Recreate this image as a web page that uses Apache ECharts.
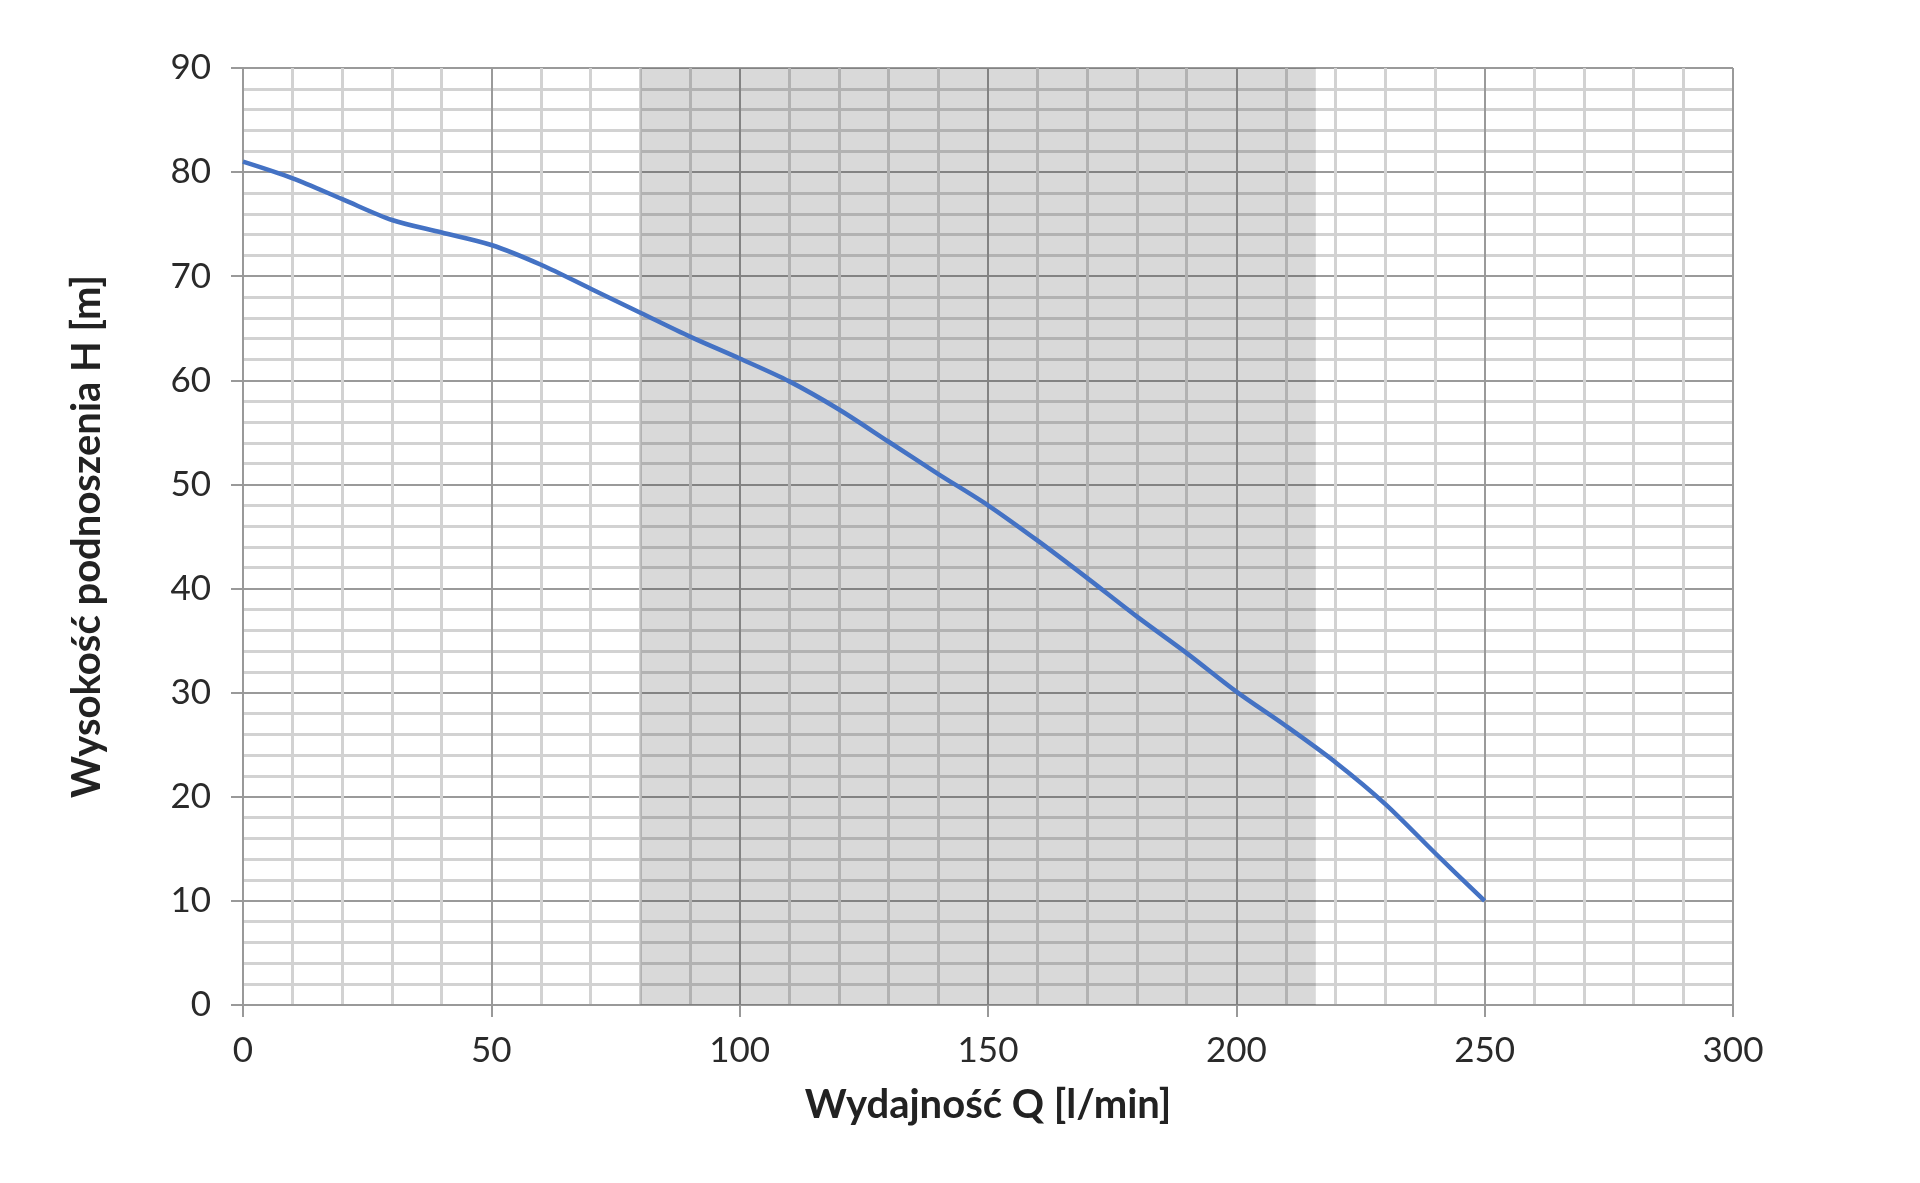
<!DOCTYPE html>
<html lang="pl">
<head>
    <meta charset="UTF-8">
    <title>Charakterystyka pompy</title>
    <script src="https://cdn.jsdelivr.net/npm/echarts@6.0.0/dist/echarts.min.js"></script>
    <style>
        html, body { margin: 0; padding: 0; background: #fff; }
    </style>
</head>
<body>

    <div id="main" style="width: 1920px;height:1183px;"></div>

    <script type="text/javascript">
        // przepływ Q [l/min] i wysokość podnoszenia H [m]
        var flow = [0, 10, 20, 30, 40, 50, 60, 70, 80, 90, 100, 110, 120, 130, 140, 150, 160, 170, 180, 190, 200, 210, 220, 230, 240, 250];
        var head = [81.0, 79.4, 77.4, 75.4, 74.2, 73.0, 71.1, 68.8, 66.5, 64.2, 62.1, 59.9, 57.2, 54.1, 51.0, 48.0, 44.6, 41.0, 37.3, 33.8, 30.1, 26.8, 23.3, 19.3, 14.6, 10.0];

        // zakres pracy (szare pole)
        var workRange = [80, 216];

        var xTicks = [0, 300, 50];   // min, max, interval
        var yTicks = [0, 90, 10];

        var points = flow.map(function (q, i) { return [q, head[i]]; });

        var myChart = echarts.init(document.getElementById('main'));

        var font = 'Lato, "Noto Sans", sans-serif';

        var option = {
            animation: false,
            grid: {
                left: 243,
                right: 187,
                top: 68,
                bottom: 178
            },
            xAxis: {
                type: 'value',
                min: xTicks[0],
                max: xTicks[1],
                interval: xTicks[2],
                name: 'Wydajność Q [l/min]',
                nameLocation: 'middle',
                nameGap: 80,
                nameTextStyle: { fontFamily: font, fontSize: 40, fontWeight: 'bold', color: '#222' },
                axisLine: { show: true, lineStyle: { color: '#999', width: 2 } },
                axisTick: { show: true, length: 12, lineStyle: { color: '#999', width: 2 } },
                axisLabel: { margin: 28, fontFamily: font, fontSize: 35, color: '#2a2a2a' },
                splitLine: { show: true, lineStyle: { color: '#9a9a9a', width: 2 } },
                minorTick: { show: false, splitNumber: 5 },
                minorSplitLine: { show: true, lineStyle: { color: '#d2d2d2', width: 3 } }
            },
            yAxis: {
                type: 'value',
                min: yTicks[0],
                max: yTicks[1],
                interval: yTicks[2],
                name: 'Wysokość podnoszenia H [m]',
                nameLocation: 'middle',
                nameGap: 136,
                nameTextStyle: { fontFamily: font, fontSize: 40, fontWeight: 'bold', color: '#222' },
                axisLine: { show: true, lineStyle: { color: '#999', width: 2 } },
                axisTick: { show: true, length: 12, lineStyle: { color: '#999', width: 2 } },
                axisLabel: { margin: 32, fontFamily: font, fontSize: 35, color: '#2a2a2a' },
                splitLine: { show: true, lineStyle: { color: '#9a9a9a', width: 2 } },
                minorTick: { show: false, splitNumber: 5 },
                minorSplitLine: { show: true, lineStyle: { color: '#d2d2d2', width: 3 } }
            },
            series: [{
                type: 'line',
                data: points,
                smooth: 0.3,
                symbol: 'none',
                lineStyle: { color: '#4472c4', width: 4.5 },
                markArea: {
                    silent: true,
                    itemStyle: { color: 'rgba(0,0,0,0.15)' },
                    data: [[{ xAxis: workRange[0] }, { xAxis: workRange[1] }]]
                }
            }]
        };

        myChart.setOption(option);
    </script>
</body>
</html>
